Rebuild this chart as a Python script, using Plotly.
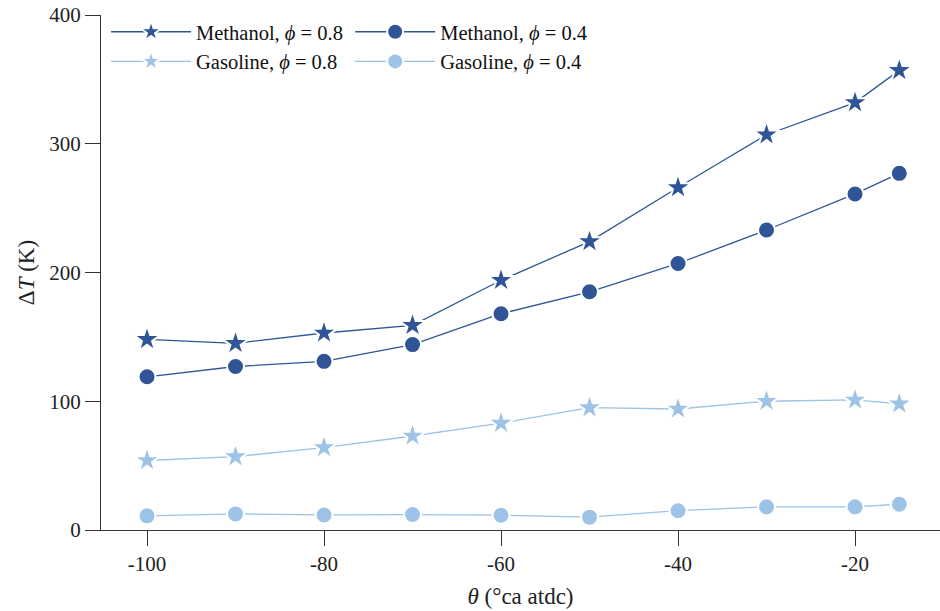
import plotly.graph_objects as go

theta = [-100, -90, -80, -70, -60, -50, -40, -30, -20, -15]
meth_08 = [148, 145, 153, 159, 194, 224, 266, 307, 332, 357]
meth_04 = [119, 127, 131, 144, 168, 185, 207, 233, 261, 277]
gas_08 = [54, 57, 64, 73, 83, 95, 94, 100, 101, 98]
gas_04 = [11, 12.5, 11.7, 12, 11.5, 10, 15, 18, 18, 20]

x_tickvals = [-100, -80, -60, -40, -20]
x_ticktext = ["-100", "-80", "-60", "-40", "-20"]
y_tickvals = [0, 100, 200, 300, 400]

dark = "#2F5597"
light = "#9DC3E6"
font = "Liberation Serif"

series = [
    ("Methanol, <i>ϕ</i> = 0.8", meth_08, dark, "star", 20, "legend"),
    ("Methanol, <i>ϕ</i> = 0.4", meth_04, dark, "circle", 17, "legend2"),
    ("Gasoline, <i>ϕ</i> = 0.8", gas_08, light, "star", 20, "legend"),
    ("Gasoline, <i>ϕ</i> = 0.4", gas_04, light, "circle", 17, "legend2"),
]

fig = go.Figure()
for name, ys, col, sym, sz, lg in series:
    fig.add_trace(go.Scatter(
        x=theta, y=ys, name=name, mode="lines+markers", legend=lg,
        line=dict(color=col, width=1.3),
        marker=dict(symbol=sym, size=sz, color=col, line=dict(color="white", width=2)),
    ))

leg_common = dict(
    orientation="v", y=1.006, xanchor="left", yanchor="top",
    font=dict(family=font, size=20.5, color="#111"),
    bgcolor="rgba(0,0,0,0)", itemwidth=80, tracegroupgap=0,
)

fig.update_layout(
    width=940, height=611,
    margin=dict(l=101, r=0, t=15, b=81, autoexpand=False),
    paper_bgcolor="white", plot_bgcolor="white",
    font=dict(family=font, size=20, color="#222"),
    showlegend=True,
    legend=dict(x=0.006, **leg_common),
    legend2=dict(x=0.297, **leg_common),
    xaxis=dict(
        range=[-105.2, -10.4], tickvals=x_tickvals, ticktext=x_ticktext,
        showgrid=False, zeroline=False, showline=True, linecolor="#333", linewidth=1.2,
        ticks="outside", ticklen=15, tickwidth=1.2, tickcolor="#333",
        tickfont=dict(family=font, size=21, color="#222"),
        ticklabeloverflow="allow",
        title=dict(text="<i>θ</i> (°ca atdc)", font=dict(family=font, size=23, color="#222"), standoff=12),
    ),
    yaxis=dict(
        range=[0, 400], tickvals=y_tickvals,
        showgrid=False, zeroline=False, showline=True, linecolor="#333", linewidth=1.2,
        ticks="outside", ticklen=15, tickwidth=1.2, tickcolor="#333",
        tickfont=dict(family=font, size=21, color="#222"),
        ticklabeloverflow="allow",
        title=dict(text="Δ<i>T</i> (K)", font=dict(family=font, size=23, color="#222"), standoff=8),
    ),
)

fig.write_html("out.html", config={"displayModeBar": False},
               post_script="document.body.style.margin='0';")
